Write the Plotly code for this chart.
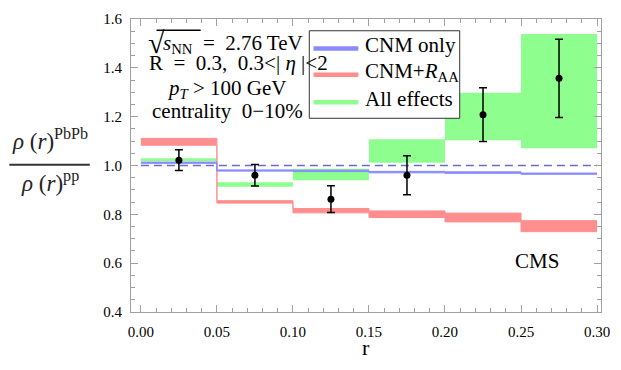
import plotly.graph_objects as go

# ---- data ----
bin_edges = [0.00, 0.05, 0.10, 0.15, 0.20, 0.25, 0.30]
green_lo = [1.017, 0.913, 0.940, 1.011, 1.103, 1.071]
green_hi = [1.030, 0.931, 0.987, 1.107, 1.298, 1.539]
red_lo = [1.083, 0.846, 0.806, 0.787, 0.769, 0.729]
red_hi = [1.111, 0.856, 0.824, 0.814, 0.805, 0.774]
blue_lo = [1.009, 0.977, 0.975, 0.970, 0.968, 0.964]
blue_hi = [1.014, 0.982, 0.981, 0.976, 0.974, 0.969]
cms_r = [0.025, 0.075, 0.125, 0.175, 0.225, 0.275]
cms_ratio = [1.022, 0.960, 0.862, 0.960, 1.208, 1.357]
cms_err = [0.042, 0.044, 0.055, 0.080, 0.110, 0.160]
ref_level = 1.0
x_ticks = [0.00, 0.05, 0.10, 0.15, 0.20, 0.25, 0.30]
y_ticks = [0.4, 0.6, 0.8, 1.0, 1.2, 1.4, 1.6]
legend_names = ["CNM only", "CNM+<i>R</i><sub>AA</sub>", "All effects"]

GREEN = "#8eff8e"
RED = "#ff8e8e"
BLUE = "#8a8aff"
legend_colors = [BLUE, RED, GREEN]
FONT = "Liberation Serif, Times New Roman, serif"

fig = go.Figure()


def band(lo, hi, color, lw):
    ylo = lo + [lo[-1]]
    yhi = hi + [hi[-1]]
    fig.add_trace(go.Scatter(x=bin_edges, y=ylo, mode="lines", line_shape="hv",
                             line=dict(color=color, width=lw), showlegend=False,
                             hoverinfo="skip"))
    fig.add_trace(go.Scatter(x=bin_edges, y=yhi, mode="lines", line_shape="hv",
                             line=dict(color=color, width=lw), fill="tonexty",
                             fillcolor=color, showlegend=False, hoverinfo="skip"))


band(green_lo, green_hi, GREEN, 0)
band(red_lo, red_hi, RED, 1)
band(blue_lo, blue_hi, BLUE, 1)

# reference dashed line
fig.add_trace(go.Scatter(x=[bin_edges[0], bin_edges[-1]], y=[ref_level, ref_level],
                         mode="lines", line=dict(color="#6b6bc9", width=1.5, dash="8px,5px"),
                         showlegend=False, hoverinfo="skip"))

# CMS points
fig.add_trace(go.Scatter(x=cms_r, y=cms_ratio, mode="markers",
                         marker=dict(color="black", size=7),
                         error_y=dict(type="data", array=cms_err, color="black",
                                      thickness=1.5, width=4),
                         showlegend=False))

L, R, T, B = 131, 11, 13, 58
W, H = 621, 370
pw = W - L - R
ph = H - T - B


def px(x):
    return (x - L) / pw


def py(y):
    return (H - B - y) / ph


axis_common = dict(showline=True, linecolor="#a0a0a0", linewidth=1, mirror="allticks",
                   ticks="inside", tickcolor="#a0a0a0", ticklen=7, showgrid=False,
                   zeroline=False, tickfont=dict(family=FONT, size=15, color="black"))

fig.update_xaxes(range=[-0.0065, 0.3026], tickvals=x_ticks,
                 ticktext=[f"{v:.2f}" for v in x_ticks],
                 minor=dict(dtick=0.01, tick0=0, ticks="inside", ticklen=4, tickcolor="#a0a0a0"),
                 ticklabelstandoff=6, **axis_common)
fig.update_yaxes(range=[0.4, 1.6], tickvals=y_ticks,
                 ticktext=[f"{v:.1f}" for v in y_ticks],
                 minor=dict(dtick=0.05, tick0=0.4, ticks="inside", ticklen=4, tickcolor="#a0a0a0"),
                 ticklabelstandoff=5, **axis_common)

ann = []
tf = dict(family=FONT, size=21, color="black")
ann.append(dict(x=px(146), y=py(37), xanchor="left", text="√",
                font=dict(family=FONT, size=30, color="black")))
ann.append(dict(x=px(162), y=py(38.5), xanchor="left",
                text="<i>s</i><sub>NN</sub>  =  2.76 TeV", font=tf))
ann.append(dict(x=px(147), y=py(58), xanchor="left",
                text="R  =  0.3,  0.3<| <i>η</i> |<2", font=tf))
ann.append(dict(x=px(228), y=py(84.5), text="<i>p</i><sub><i>T</i></sub> > 100 GeV", font=tf))
ann.append(dict(x=px(229.5), y=py(107), text="centrality  0−10%", font=tf))
ann.append(dict(x=px(545), y=py(260), text="CMS", font=tf))
ann.append(dict(x=px(370), y=py(348), text="r", font=dict(family=FONT, size=22, color="black")))
ff = dict(family=FONT, size=23, color="#222")
ann.append(dict(x=px(48), y=py(136), text="<i>ρ</i> (<i>r</i>)<sup>PbPb</sup>", font=ff))
ann.append(dict(x=px(48), y=py(179), text="<i>ρ</i> (<i>r</i>)<sup>pp</sup>", font=ff))

shapes = [
    dict(type="line", xref="paper", yref="paper", x0=px(7), x1=px(89), y0=py(161.7), y1=py(161.7),
         line=dict(color="#333", width=2)),
    # radical overline
    dict(type="line", xref="paper", yref="paper", x0=px(157), x1=px(202), y0=py(24.5), y1=py(24.5),
         line=dict(color="black", width=1.3)),
    # legend box
    dict(type="rect", xref="paper", yref="paper", x0=px(312.7), x1=px(466), y0=py(25), y1=py(114.3),
         fillcolor="white", line=dict(color="#333", width=1), layer="above"),
]
legend_rows = [43, 70, 98]
for name, col, yy in zip(legend_names, legend_colors, legend_rows):
    shapes.append(dict(type="line", xref="paper", yref="paper", x0=px(317), x1=px(362.7),
                       y0=py(yy), y1=py(yy), line=dict(color=col, width=4.5), layer="above"))
    ann.append(dict(x=px(367), y=py(yy - 3), xanchor="left", text=name, font=tf))

for a in ann:
    a.update(xref="paper", yref="paper", showarrow=False)
    a.setdefault("xanchor", "center")
    a.setdefault("yanchor", "middle")

fig.update_layout(
    width=W, height=H, margin=dict(l=L, r=R, t=T, b=B),
    paper_bgcolor="white", plot_bgcolor="white",
    annotations=ann, shapes=shapes, showlegend=False,
)

fig.write_html("out.html")
